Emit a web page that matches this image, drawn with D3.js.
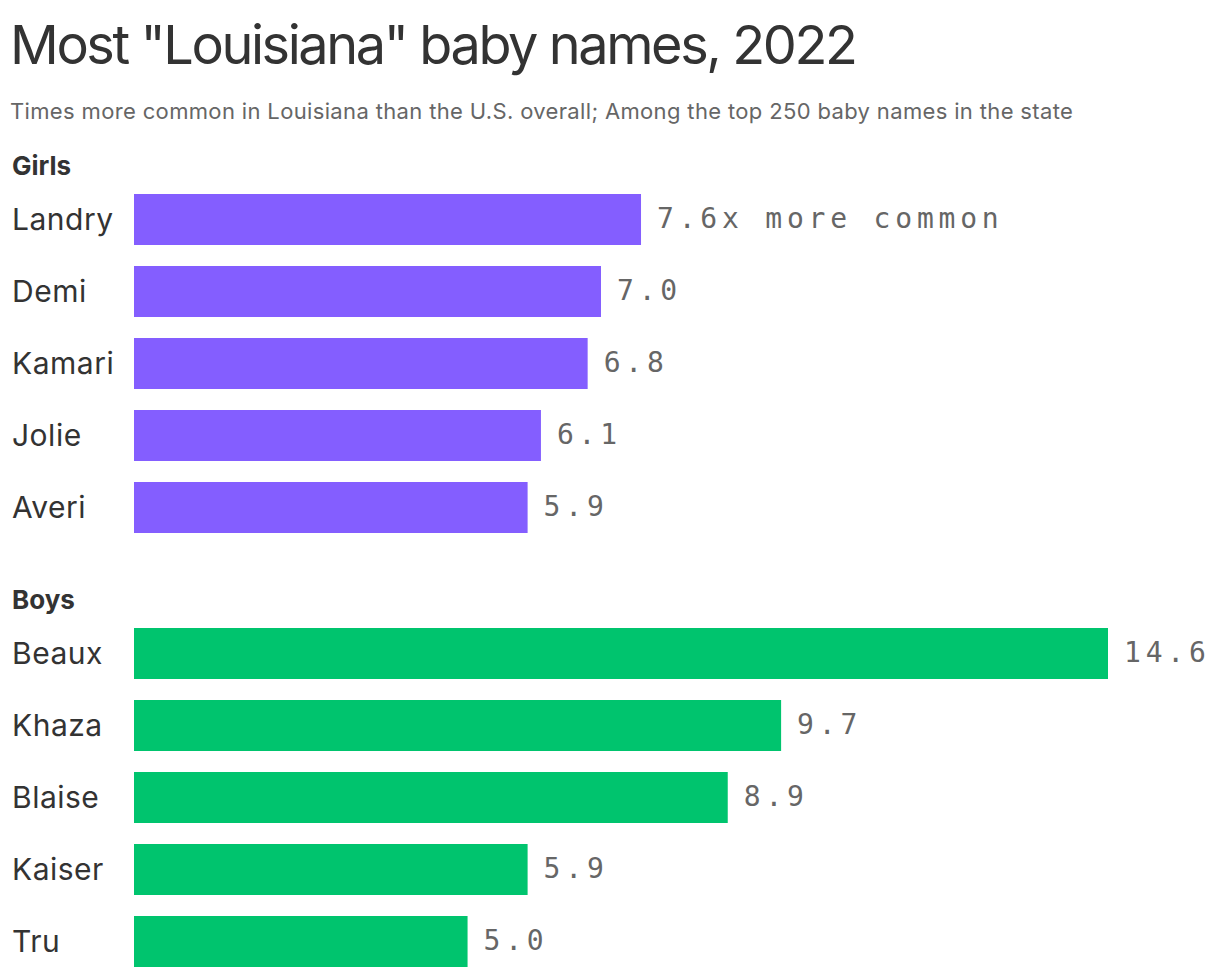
<!DOCTYPE html>
<html><head><meta charset="utf-8">
<script src="https://cdn.jsdelivr.net/npm/d3@7"></script>
<style>
body{margin:0;background:#fff;}
svg text{font-family:Inter,"Noto Sans",sans-serif;}
</style></head>
<body><svg id="c" width="1220" height="978"></svg>
<script>
const girlNames = ["Landry","Demi","Kamari","Jolie","Averi"];
const girlValues = [7.6,7.0,6.8,6.1,5.9];
const boyNames = ["Beaux","Khaza","Blaise","Kaiser","Tru"];
const boyValues = [14.6,9.7,8.9,5.9,5.0];
const groups = [
  {title:"Girls", names:girlNames, values:girlValues, color:"#845EFF", top:194},
  {title:"Boys", names:boyNames, values:boyValues, color:"#00C46E", top:628}
];
const svg = d3.select("#c");
svg.append("text").attr("x",10).attr("y",64).attr("font-size",54).attr("letter-spacing","-2.4px").attr("fill","#333")
  .text('Most "Louisiana" baby names, 2022');
svg.append("text").attr("x",10).attr("y",119).attr("font-size",22).attr("letter-spacing","0.35px").attr("fill","#666")
  .text("Times more common in Louisiana than the U.S. overall; Among the top 250 baby names in the state");
const x = d3.scaleLinear().domain([0,14.6]).range([134,1108]);
const step = 72, gap = 21;
groups.forEach(g=>{
  const y = d3.scaleBand().domain(g.names)
    .range([g.top, g.top + step*g.names.length - gap])
    .paddingInner(gap/step).paddingOuter(0);
  const gg = svg.append("g");
  gg.append("text").attr("x",12).attr("y",g.top-19).attr("font-size",26).attr("font-weight",700).attr("fill","#333").text(g.title);
  const data = g.names.map((n,i)=>({n,v:g.values[i]}));
  gg.selectAll("rect").data(data).join("rect")
    .attr("x",x(0)).attr("y",d=>y(d.n)).attr("width",d=>x(d.v)-x(0)).attr("height",y.bandwidth()).attr("fill",g.color);
  gg.selectAll("text.n").data(data).join("text").attr("class","n")
    .attr("x",12).attr("y",d=>y(d.n)+y.bandwidth()/2).attr("dy","0.34em").attr("font-size",30).attr("letter-spacing","0.5px").attr("fill","#333").text(d=>d.n);
  gg.selectAll("text.v").data(data).join("text").attr("class","v")
    .attr("x",d=>x(d.v)+16).attr("y",d=>y(d.n)+y.bandwidth()/2).attr("dy","0.32em")
    .attr("font-size",28).attr("fill","#666").attr("letter-spacing","4.8px")
    .style("font-family","'DejaVu Sans Mono','Liberation Mono',monospace")
    .text((d,i)=> (g.title==="Girls"&&i===0) ? d.v.toFixed(1)+"x more common" : d.v.toFixed(1));
});
</script></body></html>
